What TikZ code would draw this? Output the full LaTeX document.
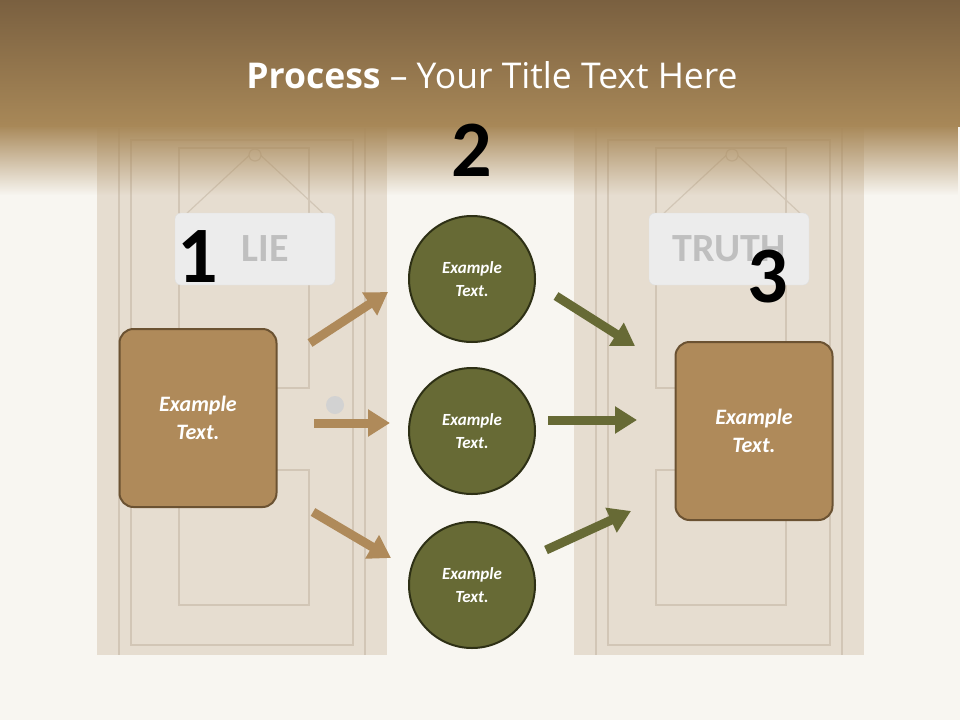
\documentclass[tikz,border=0pt]{standalone}
\usepackage{fontspec}
\setmainfont{Carlito}
\newfontfamily\titlefont{Open Sans}
\usetikzlibrary{arrows.meta,fadings}
\definecolor{bgc}{HTML}{F8F6F1}
\definecolor{topc}{HTML}{7A6040}
\definecolor{midc}{HTML}{A88858}
\definecolor{door}{HTML}{E6DDD0}
\definecolor{doorl}{HTML}{D2C6B6}
\definecolor{boxf}{HTML}{AF8A5A}
\definecolor{boxd}{HTML}{6B5232}
\definecolor{olive}{HTML}{676A35}
\definecolor{oliveb}{HTML}{2E3015}
\tikzset{
  px/.style={x=1pt,y=-1pt},
  sq/.style={draw=boxd,line width=2pt,fill=boxf,rounded corners=14pt,minimum width=157pt,minimum height=178pt,text=white,font=\bfseries\itshape\fontsize{22}{28}\selectfont,align=center},
  circ/.style={circle,draw=oliveb,line width=2pt,fill=olive,minimum size=126pt,text=white,font=\bfseries\itshape\fontsize{17}{23}\selectfont,align=center},
  barr/.style={line width=9pt,-{Triangle[length=22pt,width=26pt]}},
  num/.style={font=\bfseries\fontsize{80}{80}\selectfont},
  sign/.style={fill=gray!15,draw=gray!25,rounded corners=6pt,minimum width=160pt,minimum height=72pt,text=gray!50,font=\bfseries\fontsize{40}{40}\selectfont},
  panel/.style={draw=doorl,line width=1.2pt}
}
\begin{document}
\begin{tikzpicture}[px]
\useasboundingbox (0,0) rectangle (960,720);
\fill[bgc] (0,0) rectangle (960,720);
% doors
\foreach \x in {97,574}{
  \fill[door] (\x,128) rectangle ++(290,527);
  \draw[panel] (\x+22,128) -- ++(0,527);
  \draw[panel] (\x+268,128) -- ++(0,527);
  \draw[panel] (\x+34,140) rectangle ++(222,505);
  \draw[panel] (\x+82,148) rectangle ++(130,240);
  \draw[panel] (\x+82,470) rectangle ++(130,135);
  \draw[panel] (\x+88,215) -- (\x+158,150) -- (\x+228,215);
  \draw[panel,fill=door] (\x+158,155) circle (6);
}
\fill[gray!35] (335,405) circle (9);
% top band
\shade[top color=topc,bottom color=midc] (0,0) rectangle (960,126);
\fill[midc,path fading=south] (0,125) rectangle (960,195);
\node[text=white,font=\titlefont\fontsize{35.5}{40}\selectfont] (title) at (492,75) {\textbf{Process} – Your Title Text Here};
% signs
\node[sign] (lie) at (255,249) {\hspace*{20pt}LIE};
\node[sign] (truth) at (729,249) {TRUTH};
\node[num] (n1) at (198,257) {1};
\node[num] (n2) at (472,150) {2};
\node[num] (n3) at (768,277) {3};
% boxes
\node[sq] (b1) at (198,418) {Example\\Text.};
\node[sq] (b3) at (754,431) {Example\\Text.};
\node[circ] (c1) at (472,279) {Example\\Text.};
\node[circ] (c2) at (472,431) {Example\\Text.};
\node[circ] (c3) at (472,585) {Example\\Text.};
% arrows
\coordinate (a1s) at (310,343); \coordinate (a1e) at (388,292);
\coordinate (a2s) at (314,423); \coordinate (a2e) at (390,423);
\coordinate (a3s) at (313,512); \coordinate (a3e) at (391,558);
\coordinate (o1s) at (556,296); \coordinate (o1e) at (635,346);
\coordinate (o2s) at (548,420); \coordinate (o2e) at (637,420);
\coordinate (o3s) at (546,550); \coordinate (o3e) at (631,511);
\draw[barr,boxf] (a1s) -- (a1e);
\draw[barr,boxf] (a2s) -- (a2e);
\draw[barr,boxf] (a3s) -- (a3e);
\draw[barr,olive] (o1s) -- (o1e);
\draw[barr,olive] (o2s) -- (o2e);
\draw[barr,olive] (o3s) -- (o3e);
\end{tikzpicture}
\end{document}
